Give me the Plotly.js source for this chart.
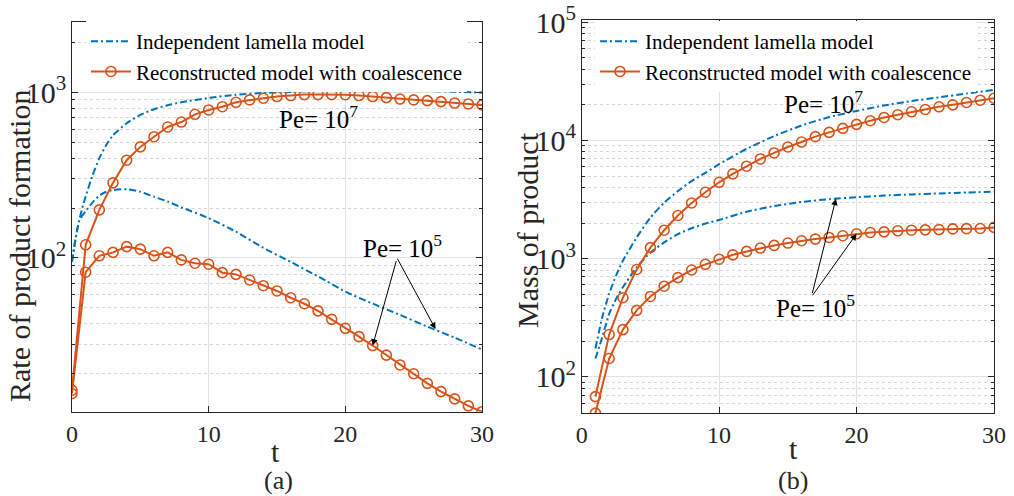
<!DOCTYPE html>
<html>
<head>
<meta charset="utf-8">
<script src="https://cdn.plot.ly/plotly-3.0.1.min.js"></script>
<style>html,body{margin:0;padding:0;background:#fff;}#chart{width:1014px;height:496px;}</style>
</head>
<body>
<div id="chart"></div>
<script>
// ---- Data: (a) rate of product formation ----
const tInt = [0,1,2,3,4,5,6,7,8,9,10,11,12,13,14,15,16,17,18,19,20,21,22,23,24,25,26,27,28,29,30];
const rateRecon7 = [15.9,120,195,284,389,468,539,617,661,736,782,818,870,899,920,942,955,968,968,968,966,955,942,928,910,899,890,878,861,850,838];
const rateRecon5 = [15.2,82,103,108,117,113,103,108,97.3,92.9,91.6,81.5,79.6,73.6,68,63.2,57.5,52.9,47.9,42.6,37.6,33.5,29.6,25.9,22.6,20,17.5,15.6,14.1,12.8,11.8];
const tIndepA = [0,0.25,0.5,0.75,1,1.5,2,2.5,3,4,5,6,7,8,10,12,14,16,18,20,22,24,26,28,30];
const rateIndep7 = [95,130,165,200,235,315,400,480,550,650,730,790,835,870,925,965,990,1005,1020,1030,1030,1025,1018,1008,995];
const rateIndep5 = [95,128,165,180,191,216,238,251,257,260,251,234,219,202,174,144,115,94.6,77.4,62.6,53,45.3,38.5,33,28];

// ---- Data: (b) mass of product ----
const tMass = [1,2,3,4,5,6,7,8,9,10,11,12,13,14,15,16,17,18,19,20,21,22,23,24,25,26,27,28,29,30];
const massRecon7 = [68,228,467,810,1240,1742,2320,2960,3650,4430,5224,6066,6986,7849,8815,9707,10780,11720,12670,13700,14700,15670,16520,17510,18330,19290,20050,20970,21950,22800];
const massRecon5 = [49.3,143,251,365,479,585,692,802,896,990,1078,1152,1230,1295,1356,1418,1465,1513,1563,1625,1665,1687,1722,1742,1754,1763,1786,1795,1800,1840];
const tIndepB = [1,1.5,2,2.5,3,4,5,6,7,8,9,10,12,14,16,18,20,22,24,26,28,30];
const massIndep7 = [174,321,505,719,962,1513,2228,2980,3735,4538,5325,6300,8500,10900,13400,15800,17800,19800,21600,23200,25000,26800];
const massIndep5 = [143,217,342,457,573,845,1130,1372,1614,1811,1982,2128,2500,2790,3020,3190,3310,3420,3500,3570,3630,3690];

const legendNames = ['Independent lamella model','Reconstructed model with coalescence'];
const axisTitles = {rate:'Rate of product formation', mass:'Mass of product', t:'t'};
const peLabels = ['Pe= 10<sup>7</sup>','Pe= 10<sup>5</sup>'];
const panelLabels = ['(a)','(b)'];

// ---- Styles ----
const BLUE = '#0072BD', ORANGE = '#D95319';
const FONT = "'Liberation Serif', 'Times New Roman', serif";
const blueLine = {color: BLUE, width: 2, dash: '7px,3px,2px,3px', shape: 'spline', smoothing: 0.5};
const orangeLine = {color: ORANGE, width: 2};
const orangeMarker = {symbol: 'circle-open', size: 10, color: ORANGE, line: {width: 1.6, color: ORANGE}};

function blue(x, y, xa, ya, show, leg) {
  return {x, y, xaxis: xa, yaxis: ya, mode: 'lines', line: blueLine, name: legendNames[0],
          showlegend: show, legend: leg, hoverinfo: 'skip'};
}
function orange(x, y, xa, ya, show, leg) {
  return {x, y, xaxis: xa, yaxis: ya, mode: 'lines+markers', line: orangeLine, marker: orangeMarker,
          name: legendNames[1], showlegend: show, legend: leg, hoverinfo: 'skip'};
}

const traces = [
  blue(tIndepA, rateIndep7, 'x', 'y', true, 'legend'),
  blue(tIndepA, rateIndep5, 'x', 'y', false, 'legend'),
  orange(tInt, rateRecon7, 'x', 'y', true, 'legend'),
  orange(tInt, rateRecon5, 'x', 'y', false, 'legend'),
  blue(tIndepB, massIndep7, 'x2', 'y2', true, 'legend2'),
  blue(tIndepB, massIndep5, 'x2', 'y2', false, 'legend2'),
  orange(tMass, massRecon7, 'x2', 'y2', true, 'legend2'),
  orange(tMass, massRecon5, 'x2', 'y2', false, 'legend2')
];

const AXC = '#262626', GRID = '#e2e2e2', MINOR = '#d6d6d6';
function xAxis(domain, anchor) {
  return {domain, anchor, range: [0, 30], tickvals: [0, 10, 20, 30], ticks: 'inside', ticklen: 6,
    tickcolor: AXC, mirror: 'allticks', showline: true, linecolor: AXC, linewidth: 1,
    showgrid: true, gridcolor: GRID, gridwidth: 1, zeroline: false,
    tickfont: {size: 24, family: FONT, color: AXC}};
}
function yAxis(domain, anchor, range) {
  return {domain, anchor, type: 'log', range, dtick: 1, exponentformat: 'power', ticks: 'inside', ticklen: 6,
    tickcolor: AXC, mirror: 'allticks', showline: true, linecolor: AXC, linewidth: 1,
    showgrid: true, gridcolor: GRID, gridwidth: 1, zeroline: false,
    minor: {ticks: 'inside', ticklen: 3, tickcolor: AXC, showgrid: true, gridcolor: MINOR, griddash: 'dot', gridwidth: 1},
    tickfont: {size: 24, family: FONT, color: AXC}};
}

const annFont = {size: 25, family: FONT, color: '#000'};
const titleFont = {size: 30, family: FONT, color: AXC};
const L = Math.log10;
function arrow(xref, yref, x, y, ax, ay) {
  return {xref, yref, x, y: L(y), ax, ay, text: '', showarrow: true, arrowhead: 2, arrowsize: 1.3,
          arrowwidth: 1, arrowcolor: '#000', standoff: 0, startstandoff: 0};
}
// paper coords: x = (px-72)/922, y = (413-py)/393
const px = v => (v - 72) / 922, py = v => (413 - v) / 393;
function ptxt(x, y, text, font, angle) {
  return {xref: 'paper', yref: 'paper', x: px(x), y: py(y), text, showarrow: false, font,
          xanchor: 'center', yanchor: 'middle', textangle: angle || 0};
}
const annotations = [
  {xref: 'x', yref: 'y', x: 18.0, y: 2.851, text: peLabels[0], showarrow: false, font: annFont},
  {xref: 'x', yref: 'y', x: 24.2, y: 2.07, text: peLabels[1], showarrow: false, font: annFont},
  arrow('x', 'y', tInt[22], rateRecon5[22], 24, -86),
  arrow('x', 'y', 26.6, 37.2, -39, -72),
  {xref: 'x2', yref: 'y2', x: 17.6, y: 4.33, text: peLabels[0], showarrow: false, font: annFont},
  {xref: 'x2', yref: 'y2', x: 17.0, y: 2.60, text: peLabels[1], showarrow: false, font: annFont},
  arrow('x2', 'y2', 18.5, 3220, -24, 96),
  arrow('x2', 'y2', tMass[19], massRecon5[19], -45, 63),
  ptxt(275, 451, axisTitles.t, {size: 30, family: FONT, color: AXC}),
  ptxt(793, 448, axisTitles.t, {size: 30, family: FONT, color: AXC}),
  ptxt(20, 246, axisTitles.rate, titleFont, -90),
  ptxt(527, 230, axisTitles.mass, titleFont, -90),
  ptxt(278, 480, panelLabels[0], {size: 26, family: FONT, color: AXC}),
  ptxt(793, 480, panelLabels[1], {size: 26, family: FONT, color: AXC})
];

const legendBase = {bgcolor: '#ffffff', borderwidth: 0, font: {size: 21, family: FONT, color: '#000'},
  xanchor: 'left', yanchor: 'top', itemwidth: 40, tracegroupgap: 0};

const layout = {
  width: 1014, height: 496,
  margin: {l: 72, r: 20, t: 20, b: 83},
  paper_bgcolor: '#fff', plot_bgcolor: '#fff',
  font: {family: FONT, color: AXC},
  showlegend: true,
  xaxis: xAxis([0, 0.4447], 'y'),
  yaxis: yAxis([0.0033, 0.9949], 'x', [1.072, 3.424]),
  xaxis2: xAxis([0.5528, 1], 'y2'),
  yaxis2: yAxis([0, 1], 'x2', [1.694, 5.02]),
  legend: Object.assign({x: px(86), y: py(21)}, legendBase),
  legend2: Object.assign({x: px(595), y: py(21)}, legendBase),
  annotations
};

Plotly.newPlot('chart', traces, layout, {staticPlot: true, displayModeBar: false});
</script>
</body>
</html>
